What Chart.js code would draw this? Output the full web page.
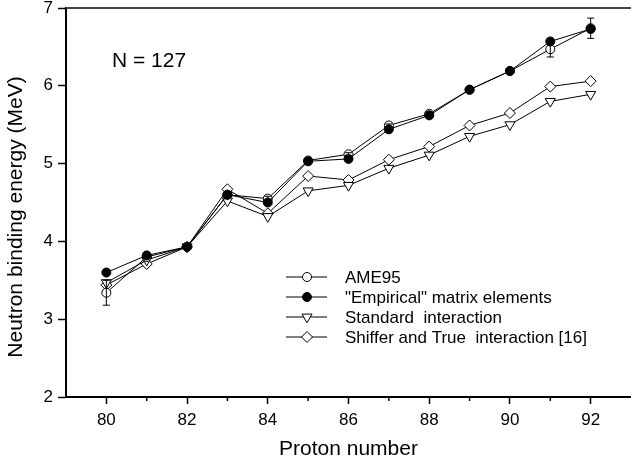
<!DOCTYPE html>
<html>
<head>
<meta charset="utf-8">
<script src="https://cdn.jsdelivr.net/npm/chart.js@4.4.0/dist/chart.umd.min.js"></script>
<style>
  html, body { margin: 0; padding: 0; background: #fff; }
  #wrap { width: 631px; height: 468px; }
</style>
</head>
<body>
<div id="wrap"><canvas id="chart"></canvas></div>
<script>
// N = 127 isotones, neutron binding energy vs proton number
var protons   = [80, 81, 82, 83, 84, 85, 86, 87, 88, 89, 90, 91, 92];
var ame95     = [3.34, 3.80, 3.93, 4.60, 4.55, 5.04, 5.12, 5.49, 5.64, 5.95, 6.19, 6.47, 6.74];
var ame95Err  = [0.16, 0.02, 0.02, 0.03, 0.03, 0.02, 0.02, 0.02, 0.02, 0.02, 0.02, 0.10, 0.13];
var empirical = [3.60, 3.82, 3.93, 4.60, 4.50, 5.03, 5.06, 5.44, 5.62, 5.95, 6.19, 6.57, 6.73];
var standard  = [3.47, 3.76, 3.93, 4.52, 4.32, 4.65, 4.72, 4.94, 5.11, 5.35, 5.50, 5.80, 5.89];
var shiffer   = [3.44, 3.71, 3.93, 4.67, 4.36, 4.84, 4.79, 5.05, 5.22, 5.49, 5.65, 5.99, 6.06];
var xTicks    = [80, 82, 84, 86, 88, 90, 92];
var xMinor    = [81, 83, 85, 87, 89, 91];

var FONT = "'Liberation Sans', Arial, sans-serif";

function pts(vals) {
    return protons.map(function (p, i) { return { x: p, y: vals[i] }; });
}

function series(label, vals, style, fill, radius, rot, order) {
    return {
        label: label,
        data: pts(vals),
        borderColor: '#000',
        borderWidth: 1,
        tension: 0,
        pointStyle: style,
        pointRadius: radius,
        pointRotation: rot,
        pointBackgroundColor: fill,
        pointBorderColor: '#000',
        pointBorderWidth: 1,
        order: order
    };
}

var decor = {
    id: 'decor',
    afterDatasetsDraw: function (chart) {
        var ctx = chart.ctx, xs = chart.scales.x, ys = chart.scales.y, a = chart.chartArea;
        ctx.save();
        // top frame line
        ctx.strokeStyle = '#444';
        ctx.lineWidth = 2;
        ctx.beginPath();
        ctx.moveTo(a.left, a.top);
        ctx.lineTo(a.right, a.top);
        ctx.stroke();
        // minor x ticks
        ctx.strokeStyle = '#000';
        ctx.lineWidth = 1.5;
        xMinor.forEach(function (v) {
            var px = xs.getPixelForValue(v);
            ctx.beginPath();
            ctx.moveTo(px, a.bottom);
            ctx.lineTo(px, a.bottom + 4);
            ctx.stroke();
        });
        // AME95 error bars
        ctx.lineWidth = 1;
        protons.forEach(function (p, i) {
            var px = xs.getPixelForValue(p);
            var y1 = ys.getPixelForValue(ame95[i] - ame95Err[i]);
            var y2 = ys.getPixelForValue(ame95[i] + ame95Err[i]);
            ctx.beginPath();
            ctx.moveTo(px, y1); ctx.lineTo(px, y2);
            ctx.moveTo(px - 3.5, y1); ctx.lineTo(px + 3.5, y1);
            ctx.moveTo(px - 3.5, y2); ctx.lineTo(px + 3.5, y2);
            ctx.stroke();
        });
        ctx.restore();
    },
    afterDraw: function (chart) {
        var ctx = chart.ctx;
        ctx.save();
        ctx.fillStyle = '#000';
        // y axis title
        ctx.font = '21px ' + FONT;
        ctx.textAlign = 'center';
        ctx.textBaseline = 'middle';
        ctx.translate(16, 217);
        ctx.rotate(-Math.PI / 2);
        ctx.fillText('Neutron binding energy (MeV)', 0, 0);
        ctx.restore();

        ctx.save();
        ctx.fillStyle = '#000';
        ctx.font = '21px ' + FONT;
        ctx.textBaseline = 'middle';
        ctx.fillText('N = 127', 112, 61);

        // legend
        ctx.font = '17px ' + FONT;
        chart.data.datasets.forEach(function (ds, i) {
            var y = 277 + i * 20;
            ctx.strokeStyle = '#000';
            ctx.lineWidth = 1;
            ctx.beginPath();
            ctx.moveTo(286, y); ctx.lineTo(327, y);
            ctx.stroke();
            ctx.fillStyle = ds.pointBackgroundColor;
            Chart.helpers.drawPoint(ctx, {
                pointStyle: ds.pointStyle,
                radius: ds.pointRadius,
                rotation: ds.pointRotation,
                borderWidth: 1
            }, 307, y);
            ctx.fillStyle = '#000';
            ctx.fillText(ds.label, 345, y + 1);
        });
        ctx.restore();
    }
};

new Chart(document.getElementById('chart'), {
    type: 'line',
    data: {
        datasets: [
            series('AME95', ame95, 'circle', '#fff', 4.5, 0, 2),
            series('"Empirical" matrix elements', empirical, 'circle', '#000', 4.5, 0, 1),
            series('Standard  interaction', standard, 'triangle', '#fff', 5.8, 180, 3),
            series('Shiffer and True  interaction [16]', shiffer, 'rectRot', '#fff', 5.5, 0, 4)
        ]
    },
    options: {
        responsive: true,
        maintainAspectRatio: false,
        animation: false,
        layout: { autoPadding: false, padding: { top: 8, right: 0, left: 0, bottom: 0 } },
        plugins: {
            legend: { display: false },
            tooltip: { enabled: false }
        },
        scales: {
            x: {
                type: 'linear',
                min: 79,
                max: 93,
                afterBuildTicks: function (s) {
                    s.ticks = xTicks.map(function (v) { return { value: v }; });
                },
                afterFit: function (s) { s.height = 71; },
                ticks: {
                    autoSkip: false,
                    maxRotation: 0,
                    padding: 6,
                    color: '#000',
                    font: { family: FONT, size: 17 }
                },
                grid: {
                    drawOnChartArea: false,
                    drawTicks: true,
                    tickLength: 7,
                    tickWidth: 1.5,
                    tickColor: '#000'
                },
                border: { display: true, color: '#000', width: 2 },
                title: {
                    display: true,
                    text: 'Proton number',
                    color: '#000',
                    font: { family: FONT, size: 21 },
                    padding: { top: 0, bottom: 6 }
                }
            },
            y: {
                min: 2,
                max: 7,
                afterFit: function (s) { s.width = 66; },
                ticks: {
                    stepSize: 1,
                    padding: 5,
                    color: '#000',
                    font: { family: FONT, size: 17, lineHeight: 0.35 }
                },
                grid: {
                    drawOnChartArea: false,
                    drawTicks: true,
                    tickLength: 8,
                    tickWidth: 1.5,
                    tickColor: '#000'
                },
                border: { display: true, color: '#000', width: 2 }
            }
        }
    },
    plugins: [decor]
});
</script>
</body>
</html>
